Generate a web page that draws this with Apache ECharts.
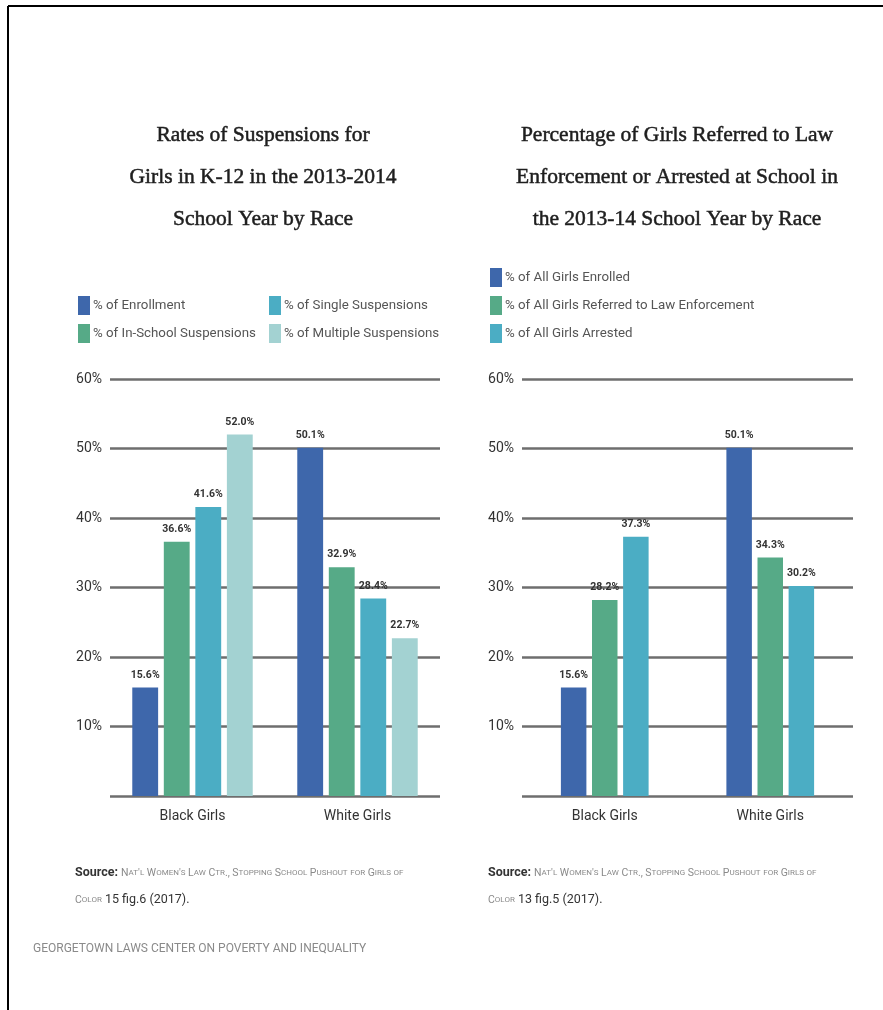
<!DOCTYPE html>
<html>
<head>
<meta charset="utf-8">
<script src="https://cdn.jsdelivr.net/npm/echarts@6/dist/echarts.min.js"></script>
<style>
  html, body { margin: 0; padding: 0; background: #fff; }
  #main { width: 883px; height: 1010px; }
</style>
</head>
<body>
<div id="main"></div>
<script>
// 数据
var categories = ['Black Girls', 'White Girls'];

var enrollment = [15.6, 50.1];
var inSchool = [36.6, 32.9];
var single = [41.6, 28.4];
var multiple = [52.0, 22.7];

var girlsEnrolled = [15.6, 50.1];
var referred = [28.2, 34.3];
var arrested = [37.3, 30.2];

var yTicks = [0, 10, 20, 30, 40, 50, 60];

var NARROW = "Roboto, 'Liberation Sans', sans-serif";
var SERIF = "'Liberation Serif', 'DejaVu Serif', serif";

var C_BLUE = '#3e67ab';
var C_GREEN = '#56aa87';
var C_TEAL = '#4badc4';
var C_LIGHT = '#a3d2d2';

// 小型大写字母 -> rich 文本
function smallCaps(str) {
	var out = '', cur = '', type = null;
	for (var i = 0; i < str.length; i++) {
		var ch = str[i];
		var t = (ch >= 'a' && ch <= 'z') ? 'cs' : 'cb';
		if (type !== null && t !== type) {
			out += '{' + type + '|' + cur + '}';
			cur = '';
		}
		type = t;
		cur += (t === 'cs') ? ch.toUpperCase() : ch;
	}
	if (cur) out += '{' + type + '|' + cur + '}';
	return out;
}

var srcRich = {
	src: { fontFamily: NARROW, fontSize: 12.5, fontWeight: 'bold', fill: '#333', color: '#333' },
	cb: { fontFamily: NARROW, fontSize: 10.5, fill: '#8a8a8a', color: '#8a8a8a' },
	cs: { fontFamily: NARROW, fontSize: 8, fill: '#8a8a8a', color: '#8a8a8a' },
	dk: { fontFamily: NARROW, fontSize: 12.5, fill: '#333', color: '#333' }
};

function sourceText(x, y, fig) {
	return [{
		type: 'text', x: x, y: y,
		style: {
			text: '{src|Source: }' + smallCaps("Nat'l Women's Law Ctr., Stopping School Pushout for Girls of"),
			rich: srcRich, verticalAlign: 'middle'
		}
	}, {
		type: 'text', x: x, y: y + 27,
		style: {
			text: smallCaps('Color') + '{dk| ' + fig + ' (2017).}',
			rich: srcRich, verticalAlign: 'middle'
		}
	}];
}

function barSeries(name, data, idx, color, catGap) {
	return {
		name: name,
		type: 'bar',
		xAxisIndex: idx,
		yAxisIndex: idx,
		data: data,
		barGap: '22%',
		barCategoryGap: catGap,
		itemStyle: { color: color },
		label: {
			show: true,
			position: 'top',
			distance: 7,
			fontFamily: NARROW,
			fontSize: 10.5,
			fontWeight: 'bold',
			color: '#333',
			formatter: function (p) { return p.value.toFixed(1) + '%'; }
		}
	};
}

function yAxisCfg(idx) {
	return {
		type: 'value',
		gridIndex: idx,
		min: yTicks[0],
		max: yTicks[yTicks.length - 1],
		interval: 10,
		axisLine: { show: false },
		axisTick: { show: false },
		axisLabel: {
			margin: 8,
			fontFamily: NARROW,
			fontSize: 14,
			color: '#333',
			formatter: function (v) { return v === 0 ? '' : v + '%'; }
		},
		splitLine: { lineStyle: { color: '#6e6e6e', width: 2.5 } }
	};
}

function xAxisCfg(idx) {
	return {
		type: 'category',
		gridIndex: idx,
		data: categories,
		axisLine: { show: false },
		axisTick: { show: false },
		axisLabel: { margin: 13, fontFamily: NARROW, fontSize: 14, color: '#333' }
	};
}

var legendBase = {
	orient: 'vertical',
	icon: 'rect',
	itemWidth: 12,
	itemHeight: 19,
	itemGap: 9,
	selectedMode: false,
	textStyle: { fontFamily: NARROW, fontSize: 13.3, color: '#555', padding: [0, 0, 0, -2] }
};

var titleStyle = {
	fontFamily: SERIF, fontSize: 21.5, fontWeight: 'normal', color: '#1e1e1e',
	lineHeight: 42, textBorderColor: '#1e1e1e', textBorderWidth: 0.5
};

var options = {
	animation: false,
	backgroundColor: '#fff',
	title: [{
		text: 'Rates of Suspensions for\nGirls in K-12 in the 2013-2014\nSchool Year by Race',
		left: 258, top: 109, textAlign: 'center',
		textStyle: titleStyle
	}, {
		text: 'Percentage of Girls Referred to Law\nEnforcement or Arrested at School in\nthe 2013-14 School Year by Race',
		left: 672, top: 109, textAlign: 'center',
		textStyle: titleStyle
	}],
	legend: [
		Object.assign({}, legendBase, { left: 73, top: 291, data: ['% of Enrollment', '% of In-School Suspensions'] }),
		Object.assign({}, legendBase, { left: 264, top: 291, data: ['% of Single Suspensions', '% of Multiple Suspensions'] }),
		Object.assign({}, legendBase, { left: 485, top: 263, data: ['% of All Girls Enrolled', '% of All Girls Referred to Law Enforcement', '% of All Girls Arrested'] })
	],
	grid: [
		{ left: 110, right: 443, top: 379, bottom: 214 },
		{ left: 522, right: 30, top: 379, bottom: 214 }
	],
	xAxis: [xAxisCfg(0), xAxisCfg(1)],
	yAxis: [yAxisCfg(0), yAxisCfg(1)],
	series: [
		barSeries('% of Enrollment', enrollment, 0, C_BLUE, '27%'),
		barSeries('% of In-School Suspensions', inSchool, 0, C_GREEN, '27%'),
		barSeries('% of Single Suspensions', single, 0, C_TEAL, '27%'),
		barSeries('% of Multiple Suspensions', multiple, 0, C_LIGHT, '27%'),
		barSeries('% of All Girls Enrolled', girlsEnrolled, 1, C_BLUE, '47%'),
		barSeries('% of All Girls Referred to Law Enforcement', referred, 1, C_GREEN, '47%'),
		barSeries('% of All Girls Arrested', arrested, 1, C_TEAL, '47%')
	],
	graphic: [
		{ type: 'line', shape: { x1: 8, y1: 6, x2: 883, y2: 6 }, style: { stroke: '#000', lineWidth: 2 } },
		{ type: 'line', shape: { x1: 8, y1: 6, x2: 8, y2: 1010 }, style: { stroke: '#000', lineWidth: 2 } },
		{
			type: 'text', x: 33, y: 949,
			style: { text: 'GEORGETOWN LAWS CENTER ON POVERTY AND INEQUALITY', font: '12px ' + NARROW, fill: '#8a8a8a', verticalAlign: 'middle' }
		}
	].concat(sourceText(75, 873, '15 fig.6'), sourceText(488, 873, '13 fig.5'))
};

var myChart = echarts.init(document.getElementById('main'));
myChart.setOption(options);
</script>
</body>
</html>
